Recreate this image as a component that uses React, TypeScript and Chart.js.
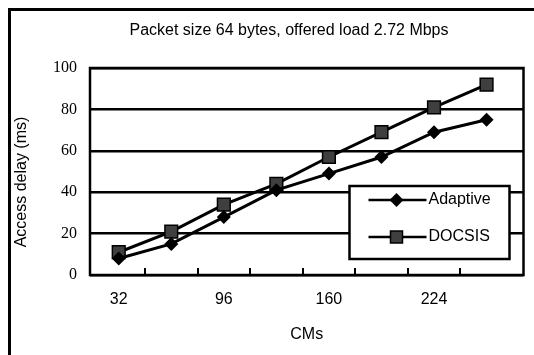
import React, { useEffect, useRef } from "react";
import { Chart, registerables } from "chart.js";

Chart.register(...registerables);

const chartTitle = "Packet size 64 bytes, offered load 2.72 Mbps";
const xTitle = "CMs";
const yTitle = "Access delay (ms)";
const cms = [32, 64, 96, 128, 160, 192, 224, 256];
const xTickLabels = [32, 96, 160, 224];
const adaptive = [8, 15, 28, 41, 49, 57, 69, 75];
const docsis = [11, 21, 34, 44, 57, 69, 81, 92];
const seriesNames = ["Adaptive", "DOCSIS"];

const SANS = "'Liberation Sans', Arial, sans-serif";
const SERIF = "'Liberation Serif', 'Times New Roman', serif";

const decorPlugin = {
  id: "decor",
  beforeDatasetsDraw(chart: any) {
    const { ctx, chartArea: a, scales } = chart;
    ctx.save();
    // outer frame (left and top visible)
    ctx.strokeStyle = "#000";
    ctx.lineWidth = 3;
    ctx.beginPath();
    ctx.moveTo(1.5, chart.height);
    ctx.lineTo(1.5, 1.5);
    ctx.lineTo(chart.width, 1.5);
    ctx.stroke();
    // plot border
    ctx.lineWidth = 2.5;
    ctx.strokeRect(a.left, a.top, a.right - a.left, a.bottom - a.top);
    // inward tick marks at category boundaries
    ctx.lineWidth = 2;
    const xs = scales.x;
    for (let i = 0; i < cms.length - 1; i++) {
      const px = Math.round(xs.getPixelForValue((cms[i] + cms[i + 1]) / 2));
      ctx.beginPath();
      ctx.moveTo(px, a.bottom);
      ctx.lineTo(px, a.bottom - 7);
      ctx.stroke();
    }
    // title
    ctx.fillStyle = "#000";
    ctx.font = `16px ${SANS}`;
    ctx.textAlign = "center";
    ctx.textBaseline = "middle";
    ctx.fillText(chartTitle, 281, 23);
    // y axis title
    ctx.translate(14, 174);
    ctx.rotate(-Math.PI / 2);
    ctx.fillText(yTitle, 0, 0);
    ctx.restore();
  },
  afterDatasetsDraw(chart: any) {
    const { ctx, chartArea: a } = chart;
    ctx.save();
    const bx1 = a.right - 14;
    const bx0 = bx1 - 160;
    const by1 = a.bottom - 16;
    const by0 = by1 - 73;
    ctx.fillStyle = "#fff";
    ctx.fillRect(bx0, by0, bx1 - bx0, by1 - by0);
    ctx.strokeStyle = "#000";
    ctx.lineWidth = 2.5;
    ctx.strokeRect(bx0, by0, bx1 - bx0, by1 - by0);
    const rows = [by0 + 14, by0 + 51];
    rows.forEach((ry, i) => {
      const lx0 = bx0 + 19;
      const lx1 = bx0 + 77;
      const mx = bx0 + 47;
      ctx.strokeStyle = "#000";
      ctx.lineWidth = 2.5;
      ctx.beginPath();
      ctx.moveTo(lx0, ry);
      ctx.lineTo(lx1, ry);
      ctx.stroke();
      if (i === 0) {
        ctx.fillStyle = "#000";
        ctx.beginPath();
        ctx.moveTo(mx, ry - 7);
        ctx.lineTo(mx + 7, ry);
        ctx.lineTo(mx, ry + 7);
        ctx.lineTo(mx - 7, ry);
        ctx.closePath();
        ctx.fill();
      } else {
        ctx.fillStyle = "#3f3f3f";
        ctx.fillRect(mx - 6, ry - 6, 12, 12);
        ctx.lineWidth = 1.5;
        ctx.strokeRect(mx - 6, ry - 6, 12, 12);
      }
      ctx.fillStyle = "#000";
      ctx.font = `16px ${SANS}`;
      ctx.textAlign = "left";
      ctx.textBaseline = "middle";
      ctx.fillText(seriesNames[i], lx1 + 2, ry);
    });
    ctx.restore();
  },
};

export default function App() {
  const ref = useRef<HTMLCanvasElement | null>(null);
  useEffect(() => {
    if (!ref.current) return;
    const chart = new Chart(ref.current, {
      type: "line",
      data: {
        datasets: [
          {
            label: seriesNames[0],
            data: cms.map((x, i) => ({ x, y: adaptive[i] })),
            borderColor: "#000",
            borderWidth: 3,
            pointStyle: "rectRot",
            pointRadius: 7,
            pointBackgroundColor: "#000",
            pointBorderColor: "#000",
            pointBorderWidth: 0,
            tension: 0,
          },
          {
            label: seriesNames[1],
            data: cms.map((x, i) => ({ x, y: docsis[i] })),
            borderColor: "#000",
            borderWidth: 3,
            pointStyle: "rect",
            pointRadius: 9,
            pointBackgroundColor: "#3f3f3f",
            pointBorderColor: "#000",
            pointBorderWidth: 1.5,
            tension: 0,
          },
        ],
      },
      options: {
        animation: false,
        responsive: false,
        maintainAspectRatio: false,
        layout: { padding: { left: 0, top: 60, right: 7, bottom: 0 } },
        plugins: {
          legend: { display: false },
          title: { display: false },
          tooltip: { enabled: false },
        },
        scales: {
          x: {
            type: "linear",
            min: 14.5,
            max: 278.5,
            afterBuildTicks: (s: any) => {
              s.ticks = xTickLabels.map((v) => ({ value: v }));
            },
            afterFit: (s: any) => {
              s.height = 80;
            },
            grid: { display: false, drawTicks: false },
            border: { display: false },
            ticks: {
              color: "#000",
              font: { family: SANS, size: 16 },
              padding: 15,
              maxRotation: 0,
              autoSkip: false,
            },
            title: {
              display: true,
              text: xTitle,
              color: "#000",
              font: { family: SANS, size: 16 },
              padding: { top: 0, bottom: 11 },
            },
          },
          y: {
            min: 0,
            max: 100,
            afterFit: (s: any) => {
              s.width = 82;
            },
            grid: { color: "#000", lineWidth: 2.5, drawTicks: false },
            border: { display: false },
            ticks: {
              stepSize: 20,
              color: "#000",
              font: { family: SERIF, size: 16 },
              padding: 13,
            },
            title: { display: false },
          },
        },
      },
      plugins: [decorPlugin],
    });
    return () => chart.destroy();
  }, []);
  return (
    <div style={{ position: "absolute", left: 8, top: 8, width: 526, height: 347 }}>
      <canvas ref={ref} width={526} height={347} style={{ width: 526, height: 347, display: "block" }} />
    </div>
  );
}
